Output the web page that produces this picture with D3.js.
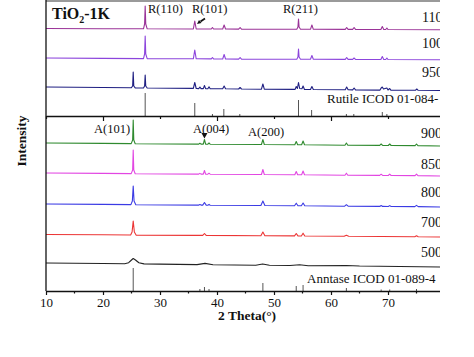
<!DOCTYPE html>
<html><head><meta charset="utf-8">
<script src="https://cdn.jsdelivr.net/npm/d3@7"></script>
<style>
html,body{margin:0;padding:0;background:#fff;}
svg{display:block;}
svg text{font-family:"Liberation Serif","Tinos","DejaVu Serif","Times New Roman",serif !important;fill:#111;}
</style></head>
<body>
<script>
// ---------------- DATA ----------------
const xTickLabels = [10, 20, 30, 40, 50, 60, 70];
const topSeriesNames = ["1100", "1000", "950"];
const bottomSeriesNames = ["900", "850", "800", "700", "500"];
const topOffsets = [86, 56, 25];          // stacking offsets (intensity units)
const bottomOffsets = [145, 115, 84, 54, 24];

const s1100 = [[10,1.5],[20,1.3],[27.1,1.2],[27.3,6],[27.4,24],[27.5,6],[27.75,1.2],[35.85,1],[36.1,9],[36.35,1],[39.0,1],[39.2,2.5],[39.4,1],[41.0,1],[41.25,5],[41.5,1],[43.8,0.9],[44.05,2.5],[44.3,0.9],[54.0,0.8],[54.2,3],[54.3,11],[54.4,3],[54.65,0.8],[56.4,0.7],[56.65,5],[56.9,0.7],[62.5,0.6],[62.75,2.5],[63.0,0.6],[63.8,0.6],[64.05,2.5],[64.3,0.6],[68.75,0.5],[69.0,3.5],[69.25,0.6],[69.6,0.5],[69.8,2],[70.0,0.5],[80,0.3]];
const s1000 = [[10,2],[20,1.6],[27.1,1.4],[27.3,6],[27.4,24],[27.5,6],[27.75,1.4],[35.85,1.2],[36.1,10],[36.35,1.2],[39.0,1.1],[39.2,2.5],[39.4,1.1],[41.0,1],[41.25,5.5],[41.5,1],[43.8,0.9],[44.05,2.5],[44.3,0.9],[54.0,0.8],[54.2,3],[54.3,11],[54.4,3],[54.65,0.8],[56.4,0.7],[56.65,4.5],[56.9,0.7],[62.5,0.6],[62.75,2.5],[63.0,0.6],[63.8,0.6],[64.05,2],[64.3,0.6],[68.75,0.5],[69.0,3.5],[69.25,0.6],[69.6,0.5],[69.8,2],[70.0,0.5],[80,0.3]];
const s950 = [[10,4],[20,3.5],[24.95,3.2],[25.2,5],[25.3,19],[25.4,5],[25.65,3.1],[27.1,3],[27.3,5],[27.4,16],[27.5,5],[27.75,3],[35.85,2.6],[36.1,8.5],[36.35,2.5],[36.8,2.4],[37.0,4],[37.2,2.4],[37.6,2.4],[37.8,5.5],[38.0,2.4],[38.4,2.3],[38.6,4.2],[38.8,2.3],[41.0,2.2],[41.25,5],[41.5,2.2],[43.8,2],[44.05,3.5],[44.3,2],[47.8,1.8],[48.05,7],[48.3,1.8],[53.7,1.6],[53.9,4.5],[54.1,2.5],[54.3,8.5],[54.5,2.5],[54.9,2.2],[55.1,5],[55.35,1.5],[56.4,1.5],[56.65,4.5],[56.9,1.5],[62.5,1.2],[62.75,4],[63.0,1.2],[63.8,1.1],[64.05,3],[64.3,1.1],[68.6,0.9],[68.8,3],[69.0,4],[69.2,2],[69.8,3],[70.0,1],[70.3,2.5],[70.5,0.9],[74.8,0.7],[75.05,2],[75.3,0.7],[80,0.5]];

const s900 = [[10,3],[20,2.6],[24.95,2.4],[25.2,6],[25.3,26],[25.4,6],[25.65,2.3],[36.8,1.9],[37.0,2.8],[37.2,1.9],[37.6,1.9],[37.8,6.5],[38.0,1.9],[38.4,1.8],[38.6,3],[38.8,1.8],[47.8,1.5],[48.05,6.5],[48.3,1.5],[53.65,1.3],[53.9,4.5],[54.15,1.3],[54.85,1.2],[55.1,5],[55.35,1.2],[62.45,0.8],[62.7,3],[62.95,0.8],[68.55,0.6],[68.8,2],[69.05,0.6],[70.05,0.5],[70.3,2],[70.55,0.5],[74.75,0.4],[75.0,2],[75.25,0.4],[80,0]];
const s850 = [[10,3],[20,2.6],[24.95,2.4],[25.2,6],[25.3,26],[25.4,6],[25.65,2.3],[36.8,1.9],[37.0,2.6],[37.2,1.9],[37.6,1.9],[37.8,5.5],[38.0,1.9],[38.4,1.8],[38.6,2.8],[38.8,1.8],[47.8,1.5],[48.05,6.5],[48.3,1.5],[53.65,1.3],[53.9,4.5],[54.15,1.3],[54.85,1.2],[55.1,5],[55.35,1.2],[62.45,0.8],[62.7,2.8],[62.95,0.8],[68.55,0.6],[68.8,1.8],[69.05,0.6],[70.05,0.5],[70.3,1.8],[70.55,0.5],[74.75,0.4],[75.0,1.8],[75.25,0.4],[80,0]];
const s800 = [[10,3],[20,2.6],[24.9,2.4],[25.15,6],[25.3,21],[25.45,6],[25.75,2.3],[36.8,1.9],[37.0,2.4],[37.2,1.9],[37.5,1.9],[37.8,4.5],[38.1,1.9],[38.4,1.8],[38.6,2.6],[38.8,1.8],[47.7,1.5],[48.05,6],[48.4,1.5],[53.6,1.3],[53.9,3.8],[54.2,1.3],[54.8,1.2],[55.1,4],[55.4,1.2],[62.4,0.8],[62.7,2.3],[63.0,0.8],[68.55,0.6],[68.8,1.4],[69.05,0.6],[70.05,0.5],[70.3,1.4],[70.55,0.5],[74.7,0.4],[75.0,1.6],[75.3,0.4],[80,0]];
const s700 = [[10,2.5],[20,2.2],[24.85,2],[25.1,5],[25.3,16],[25.5,5],[25.8,1.9],[36.8,1.6],[37.5,1.6],[37.8,3.5],[38.1,1.6],[47.7,1.3],[48.05,5],[48.4,1.3],[53.6,1.1],[53.9,3.5],[54.2,1.1],[54.8,1],[55.1,3.8],[55.4,1],[62.3,0.7],[62.7,1.8],[63.1,0.7],[74.7,0.3],[75.0,1.2],[75.3,0.3],[80,0]];
const s500 = [[10,4],[20,3.5],[23.8,3.3],[24.5,4.3],[25.0,7],[25.3,8.5],[25.7,7],[26.3,4.2],[27.2,3.1],[30,2.9],[36.5,2.4],[37.9,3.6],[39.3,2.3],[46.8,1.7],[48.0,3],[49.2,1.7],[52.8,1.5],[54.5,2.3],[56,1.3],[62.7,1.5],[65,1],[80,0]];

const topSeries = [s1100, s1000, s950];
const bottomSeries = [s900, s850, s800, s700, s500];

const rutileRef = [[27.4,23],[36.1,13],[39.2,2],[41.2,7],[44.0,2],[54.3,16],[56.6,6],[62.7,2],[64.0,2],[69.0,4],[69.8,2]];
const anataseRef = [[25.3,23],[37.0,2],[37.8,4],[38.6,2],[48.05,8],[53.9,5],[55.1,6],[62.7,3],[68.8,1.5],[70.3,1.5],[75.0,2]];

const rutileLabel = "Rutile ICOD 01-084-";
const anataseLabel = "Anntase ICOD 01-089-4";
const peakLabelsTop = [{t:"R(110)", x:27.4}, {t:"R(101)", x:36.1}, {t:"R(211)", x:54.3}];
const peakLabelsBottom = [{t:"A(101)", x:25.3}, {t:"A(004)", x:37.8}, {t:"A(200)", x:48.05}];

// ---------------- DRAW ----------------
const W = 440, H = 357;
const FONT = "Liberation Serif, Tinos, DejaVu Serif, Times New Roman, serif";
const topColors = ["#9a3398", "#8c45dc", "#1f1f82"];
const bottomColors = ["#2f8a2f", "#e246e2", "#3b3be4", "#ec3535", "#222222"];

const svg = d3.select("body").append("svg").attr("width", W).attr("height", H)
  .attr("font-family", FONT);

const x = d3.scaleLinear().domain([10, 80]).range([46, 445]);
const yTop = d3.scaleLinear().domain([0, 115]).range([116, 1]);
const yBot = d3.scaleLinear().domain([0, 175]).range([291, 116]);

function drawPanel(series, offsets, colors, y) {
  series.forEach((s, i) => {
    const line = d3.line().x(d => x(d[0])).y(d => y(d[1] + offsets[i]));
    svg.append("path").datum(s).attr("d", line)
      .attr("fill", "none").attr("stroke", colors[i]).attr("stroke-width", 1.1)
      .attr("stroke-linejoin", "round");
  });
}
drawPanel(topSeries, topOffsets, topColors, yTop);
drawPanel(bottomSeries, bottomOffsets, bottomColors, yBot);

// reference sticks
function sticks(ref, y) {
  svg.append("g").selectAll("line").data(ref).join("line")
    .attr("x1", d => x(d[0])).attr("x2", d => x(d[0]))
    .attr("y1", y(0)).attr("y2", d => y(d[1]))
    .attr("stroke", "#555").attr("stroke-width", 1);
}
sticks(rutileRef, yTop);
sticks(anataseRef, yBot);

// top border
svg.append("line").attr("x1", 46).attr("x2", W).attr("y1", 1).attr("y2", 1)
  .attr("stroke", "#9a9a9a").attr("stroke-width", 2);
// left axis
svg.append("line").attr("x1", 46).attr("x2", 46).attr("y1", 0).attr("y2", yBot(0))
  .attr("stroke", "#111").attr("stroke-width", 1.3);

// middle axis (ticks into lower panel)
const midAxis = d3.axisBottom(x).tickValues(xTickLabels).tickFormat("")
  .tickSizeInner(0).tickSizeOuter(0);
const gm = svg.append("g").attr("transform", `translate(0,${yTop(0)})`).call(midAxis);
gm.select(".domain").attr("stroke", "#111").attr("stroke-width", 1.3);
gm.selectAll(".tick line").attr("y2", d => (d % 20 === 0 ? 5 : 3)).attr("stroke", "#111").attr("stroke-width", 1.2);

// bottom axis
const botAxis = d3.axisBottom(x).tickValues(xTickLabels).tickSizeInner(4).tickSizeOuter(0).tickPadding(3);
const gb = svg.append("g").attr("transform", `translate(0,${yBot(0)})`).call(botAxis)
  .attr("font-family", FONT);
gb.select(".domain").attr("stroke", "#111").attr("stroke-width", 1.3);
gb.selectAll(".tick line").attr("stroke", "#111").attr("stroke-width", 1.2);
gb.selectAll(".tick text").attr("font-size", 13).attr("fill", "#111");
const minor = d3.range(15, 80, 10);
svg.append("g").selectAll("line").data(minor).join("line")
  .attr("x1", d => x(d)).attr("x2", d => x(d))
  .attr("y1", yBot(0)).attr("y2", yBot(0) + 2.5)
  .attr("stroke", "#111").attr("stroke-width", 1.2);

// axis titles
svg.append("text").attr("x", 218).attr("y", 320).attr("font-size", 13.5).attr("font-weight", "bold")
  .text("2 Theta(°)");
svg.append("text").attr("transform", "translate(26,141) rotate(-90)").attr("text-anchor", "middle")
  .attr("font-size", 13.5).attr("font-weight", "bold").text("Intensity");

// sample title
const tt = svg.append("text").attr("x", 52).attr("y", 19).attr("font-size", 16).attr("font-weight", "bold");
tt.append("tspan").text("TiO");
tt.append("tspan").attr("font-size", 10).attr("dy", 4).text("2");
tt.append("tspan").attr("dy", -4).text("-1K");

// series labels
const topLabelY = [22, 48, 77];
const botLabelY = [138, 169, 197, 227, 257];
topSeriesNames.forEach((n, i) => svg.append("text").attr("x", 422).attr("y", topLabelY[i]).attr("font-size", 14).text(n));
bottomSeriesNames.forEach((n, i) => svg.append("text").attr("x", 421).attr("y", botLabelY[i]).attr("font-size", 14).text(n));
svg.append("text").attr("x", 327).attr("y", 103).attr("font-size", 13).text(rutileLabel);
svg.append("text").attr("x", 307).attr("y", 283).attr("font-size", 13).text(anataseLabel);

// peak labels
const topLabelX = [148, 192, 283];
peakLabelsTop.forEach((p, i) => svg.append("text").attr("x", topLabelX[i]).attr("y", 13).attr("font-size", 12.5).text(p.t));
const botLabelX = [94, 193, 248];
const botLabelYs = [133, 133, 136];
peakLabelsBottom.forEach((p, i) => svg.append("text").attr("x", botLabelX[i]).attr("y", botLabelYs[i]).attr("font-size", 12.5).text(p.t));

// arrow for R(101)
svg.append("line").attr("x1", 205).attr("y1", 18.5).attr("x2", 200.5).attr("y2", 21.5)
  .attr("stroke", "#111").attr("stroke-width", 1.8);
svg.append("path").attr("d", "M197,24 L199,20 L201.5,23 Z").attr("fill", "#111");
// triangle for A(004)
const tx = x(37.8);
svg.append("path").attr("d", `M${tx-3},133 L${tx+3},133 L${tx},138.5 Z`).attr("fill", "#111");
</script>
</body></html>
